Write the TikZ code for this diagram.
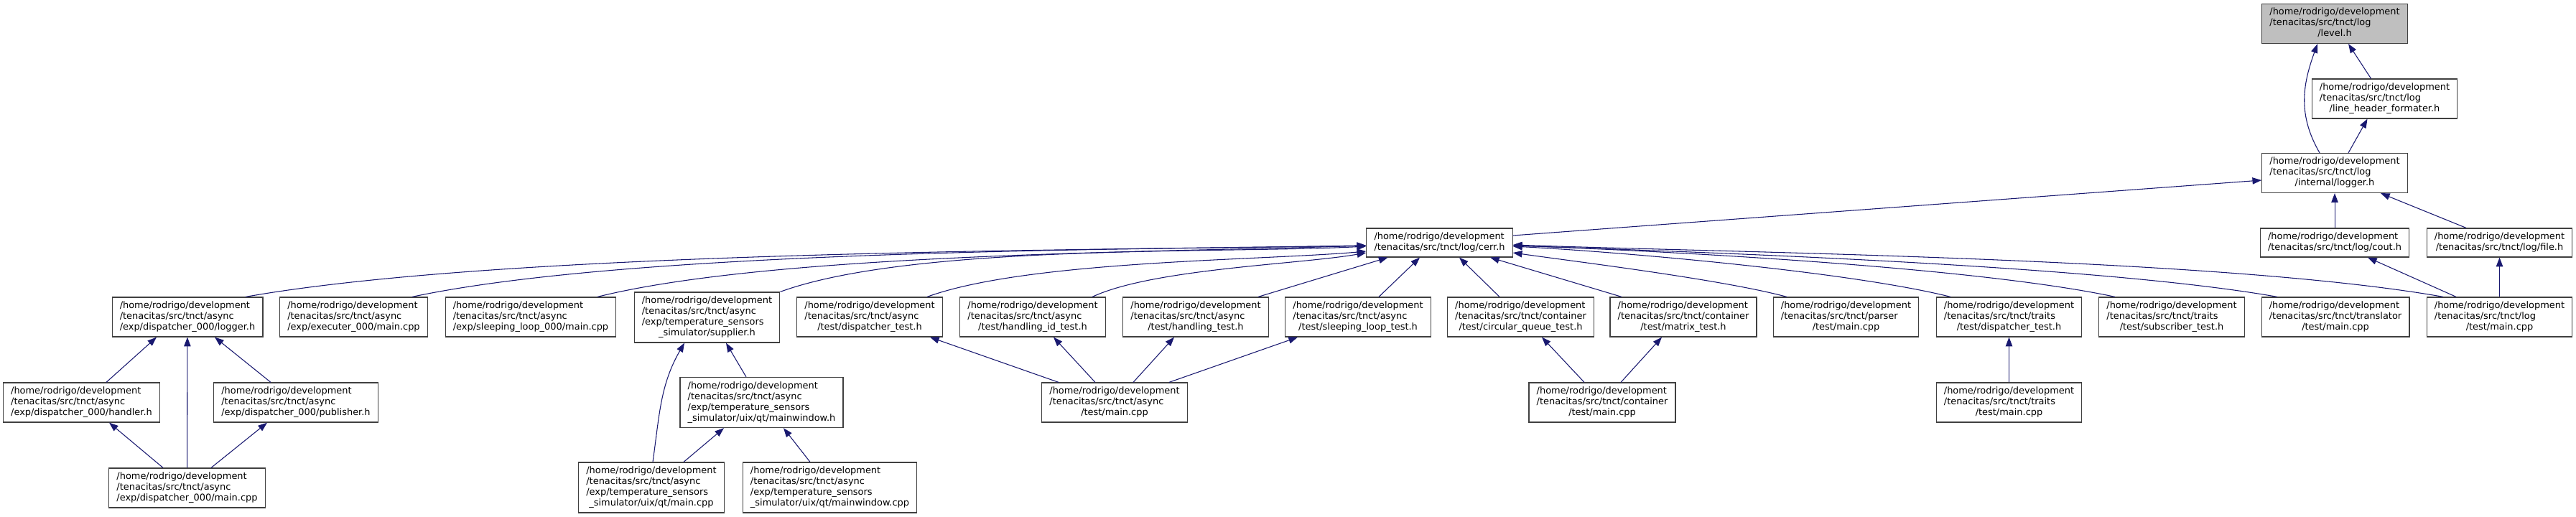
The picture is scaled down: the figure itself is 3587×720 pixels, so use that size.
\documentclass[tikz,border=0pt]{standalone}
\usepackage{fontspec}
\setmainfont{DejaVu Sans}
\usetikzlibrary{arrows.meta, calc}
\definecolor{edgeblue}{HTML}{191970}
\definecolor{rootgray}{HTML}{BFBFBF}
\newcommand{\fpath}[2]{\begin{tabular}{@{}l@{}}#1\\\multicolumn{1}{@{}c@{}}{#2}\end{tabular}}

\begin{document}
\begin{tikzpicture}[x=0.75pt, y=0.75pt,
        incbox/.style={draw=black!75, line width=0.9pt, fill=white, inner xsep=8pt, inner ysep=3.75pt, font=\fontsize{9.7}{11.25}\selectfont},
        incedge/.style={draw=edgeblue, line width=0.8pt, -{Triangle[length=9.5pt, width=7pt]}}]
    \useasboundingbox (0,0) rectangle (3587,-720);
    \node[incbox, fill=rootgray] (level) at (3251,-33) {\fpath{/home/rodrigo/development\\/tenacitas/src/tnct/log}{/level.h}};
    \node[incbox] (lhf) at (3320.5,-137.5) {\fpath{/home/rodrigo/development\\/tenacitas/src/tnct/log}{/line\_header\_formater.h}};
    \node[incbox] (ilogger) at (3251,-241) {\fpath{/home/rodrigo/development\\/tenacitas/src/tnct/log}{/internal/logger.h}};
    \node[incbox] (cerr) at (2004.5,-338) {\fpath{/home/rodrigo/development}{/tenacitas/src/tnct/log/cerr.h}};
    \node[incbox] (cout) at (3251,-338) {\fpath{/home/rodrigo/development}{/tenacitas/src/tnct/log/cout.h}};
    \node[incbox] (lfile) at (3480.5,-338) {\fpath{/home/rodrigo/development}{/tenacitas/src/tnct/log/file.h}};

    \node[incbox] (dlogger) at (261,-441.5) {\fpath{/home/rodrigo/development\\/tenacitas/src/tnct/async}{/exp/dispatcher\_000/logger.h}};
    \node[incbox] (executer) at (492.5,-441.5) {\fpath{/home/rodrigo/development\\/tenacitas/src/tnct/async}{/exp/executer\_000/main.cpp}};
    \node[incbox] (sleep) at (739,-441.5) {\fpath{/home/rodrigo/development\\/tenacitas/src/tnct/async}{/exp/sleeping\_loop\_000/main.cpp}};
    \node[incbox] (supplier) at (984.5,-442) {\fpath{/home/rodrigo/development\\/tenacitas/src/tnct/async\\/exp/temperature\_sensors}{\_simulator/supplier.h}};
    \node[incbox] (adisp) at (1211,-441.5) {\fpath{/home/rodrigo/development\\/tenacitas/src/tnct/async}{/test/dispatcher\_test.h}};
    \node[incbox] (hidtest) at (1438,-441.5) {\fpath{/home/rodrigo/development\\/tenacitas/src/tnct/async}{/test/handling\_id\_test.h}};
    \node[incbox] (htest) at (1665,-441.5) {\fpath{/home/rodrigo/development\\/tenacitas/src/tnct/async}{/test/handling\_test.h}};
    \node[incbox] (sltest) at (1891,-441.5) {\fpath{/home/rodrigo/development\\/tenacitas/src/tnct/async}{/test/sleeping\_loop\_test.h}};
    \node[incbox] (circ) at (2117.5,-441.5) {\fpath{/home/rodrigo/development\\/tenacitas/src/tnct/container}{/test/circular\_queue\_test.h}};
    \node[incbox] (matrix) at (2344,-441.5) {\fpath{/home/rodrigo/development\\/tenacitas/src/tnct/container}{/test/matrix\_test.h}};
    \node[incbox] (parser) at (2570.5,-441.5) {\fpath{/home/rodrigo/development\\/tenacitas/src/tnct/parser}{/test/main.cpp}};
    \node[incbox] (tdisp) at (2797.5,-441.5) {\fpath{/home/rodrigo/development\\/tenacitas/src/tnct/traits}{/test/dispatcher\_test.h}};
    \node[incbox] (subs) at (3024,-441.5) {\fpath{/home/rodrigo/development\\/tenacitas/src/tnct/traits}{/test/subscriber\_test.h}};
    \node[incbox] (transl) at (3252,-441.5) {\fpath{/home/rodrigo/development\\/tenacitas/src/tnct/translator}{/test/main.cpp}};
    \node[incbox] (logtest) at (3480.5,-441.5) {\fpath{/home/rodrigo/development\\/tenacitas/src/tnct/log}{/test/main.cpp}};

    \node[incbox] (handler) at (113.5,-560.5) {\fpath{/home/rodrigo/development\\/tenacitas/src/tnct/async}{/exp/dispatcher\_000/handler.h}};
    \node[incbox] (publisher) at (412,-560.5) {\fpath{/home/rodrigo/development\\/tenacitas/src/tnct/async}{/exp/dispatcher\_000/publisher.h}};
    \node[incbox] (mainwin) at (1060.5,-560.5) {\fpath{/home/rodrigo/development\\/tenacitas/src/tnct/async\\/exp/temperature\_sensors}{\_simulator/uix/qt/mainwindow.h}};
    \node[incbox] (atest) at (1552,-560.5) {\fpath{/home/rodrigo/development\\/tenacitas/src/tnct/async}{/test/main.cpp}};
    \node[incbox] (ctest) at (2231,-560.5) {\fpath{/home/rodrigo/development\\/tenacitas/src/tnct/container}{/test/main.cpp}};
    \node[incbox] (ttest) at (2797.5,-560.5) {\fpath{/home/rodrigo/development\\/tenacitas/src/tnct/traits}{/test/main.cpp}};

    \node[incbox] (dmain) at (260.5,-679.5) {\fpath{/home/rodrigo/development\\/tenacitas/src/tnct/async}{/exp/dispatcher\_000/main.cpp}};
    \node[incbox] (qtmain) at (907,-679) {\fpath{/home/rodrigo/development\\/tenacitas/src/tnct/async\\/exp/temperature\_sensors}{\_simulator/uix/qt/main.cpp}};
    \node[incbox] (mwcpp) at (1155.5,-679) {\fpath{/home/rodrigo/development\\/tenacitas/src/tnct/async\\/exp/temperature\_sensors}{\_simulator/uix/qt/mainwindow.cpp}};

    \draw[incedge] ($(ilogger.north)+(-21,0)$) .. controls +(120:61) and +(250:61) .. ($(level.south)+(-24,0)$);
    \draw[incedge] ($(lhf.north)+(-19,0)$) -- ($(level.south)+(19,0)$);
    \draw[incedge] ($(ilogger.north)+(19,0)$) -- ($(lhf.south)+(-24,0)$);
    \draw[incedge] ($(cerr.east)+(0,10)$) -- ($(ilogger.west)+(0,-10)$);
    \draw[incedge] (cout) -- (ilogger);
    \draw[incedge] ($(lfile.north)+(-46.5,0)$) -- ($(ilogger.south)+(64,0)$);
    \draw[incedge] ($(logtest.north)+(-60.5,0)$) -- ($(cout.south)+(46,0)$);
    \draw[incedge] (logtest) -- (lfile);

    \draw[incedge] ($(dlogger.north)+(81,0)$) .. controls +(10:375) and +(181:375) .. ($(cerr.west)+(0,-4)$);
    \draw[incedge] ($(executer.north)+(81.5,0)$) .. controls +(12:319) and +(181:319) .. ($(cerr.west)+(0,-4)$);
    \draw[incedge] ($(sleep.north)+(93,0)$) .. controls +(14:258) and +(182:258) .. ($(cerr.west)+(0,-4)$);
    \draw[incedge] (supplier.north east) .. controls +(20:197) and +(183:197) .. ($(cerr.west)+(0,-5)$);
    \draw[incedge] ($(adisp.north)+(80,0)$) .. controls +(20:148) and +(185:148) .. ($(cerr.west)+(0,-12)$);
    \draw[incedge] ($(hidtest.north)+(83,0)$) .. controls +(25:93) and +(190:93) .. ($(cerr.west)+(0,-14)$);
    \draw[incedge] ($(htest.north)+(87,0)$) -- ($(cerr.south)+(-72,0)$);
    \draw[incedge] ($(sltest.north)+(29,0)$) -- ($(cerr.south)+(-27.5,0)$);
    \draw[incedge] ($(circ.north)+(-29.5,0)$) -- ($(cerr.south)+(27.5,0)$);
    \draw[incedge] ($(matrix.north)+(-86,0)$) -- ($(cerr.south)+(70.5,0)$);
    \draw[incedge] ($(parser.north)+(-82.5,0)$) .. controls +(165:93) and +(-8:93) .. ($(cerr.east)+(0,-14)$);
    \draw[incedge] ($(tdisp.north)+(-81.5,0)$) .. controls +(166:147) and +(-3:147) .. ($(cerr.east)+(0,-5)$);
    \draw[incedge] ($(subs.north)+(-79,0)$) .. controls +(168:202) and +(-2:202) .. ($(cerr.east)+(0,-4)$);
    \draw[incedge] ($(transl.north)+(-81,0)$) .. controls +(170:256) and +(-2:256) .. ($(cerr.east)+(0,-4)$);
    \draw[incedge] ($(logtest.north)+(-78.5,0)$) .. controls +(170:312) and +(-2:312) .. ($(cerr.east)+(0,-3)$);

    \draw[incedge] ($(handler.north)+(34.5,0)$) -- ($(dlogger.south)+(-43,0)$);
    \draw[incedge] (dmain) -- (dlogger);
    \draw[incedge] ($(publisher.north)+(-35,0)$) -- ($(dlogger.south)+(38,0)$);
    \draw[incedge] ($(dmain.north)+(-33.5,0)$) -- ($(handler.south)+(38.5,0)$);
    \draw[incedge] ($(dmain.north)+(33.5,0)$) -- ($(publisher.south)+(-40,0)$);

    \draw[incedge] ($(qtmain.north)+(2,0)$) .. controls +(82:67) and +(240:67) .. ($(supplier.south)+(-31.5,0)$);
    \draw[incedge] ($(mainwin.north)+(-21.5,0)$) -- ($(supplier.south)+(26.5,0)$);
    \draw[incedge] ($(qtmain.north)+(45,0)$) -- ($(mainwin.south)+(-52.5,0)$);
    \draw[incedge] ($(mwcpp.north)+(-27.5,0)$) -- ($(mainwin.south)+(30.5,0)$);

    \draw[incedge] ($(atest.north)+(-78,0)$) -- ($(adisp.south)+(84,0)$);
    \draw[incedge] ($(atest.north)+(-27,0)$) -- ($(hidtest.south)+(29,0)$);
    \draw[incedge] ($(atest.north)+(26,0)$) -- ($(htest.south)+(-30,0)$);
    \draw[incedge] ($(atest.north)+(76,0)$) -- ($(sltest.south)+(-84,0)$);
    \draw[incedge] ($(ctest.north)+(-25,0)$) -- ($(circ.south)+(29.5,0)$);
    \draw[incedge] ($(ctest.north)+(26,0)$) -- ($(matrix.south)+(-30,0)$);
    \draw[incedge] (ttest) -- (tdisp);
\end{tikzpicture}
\end{document}
